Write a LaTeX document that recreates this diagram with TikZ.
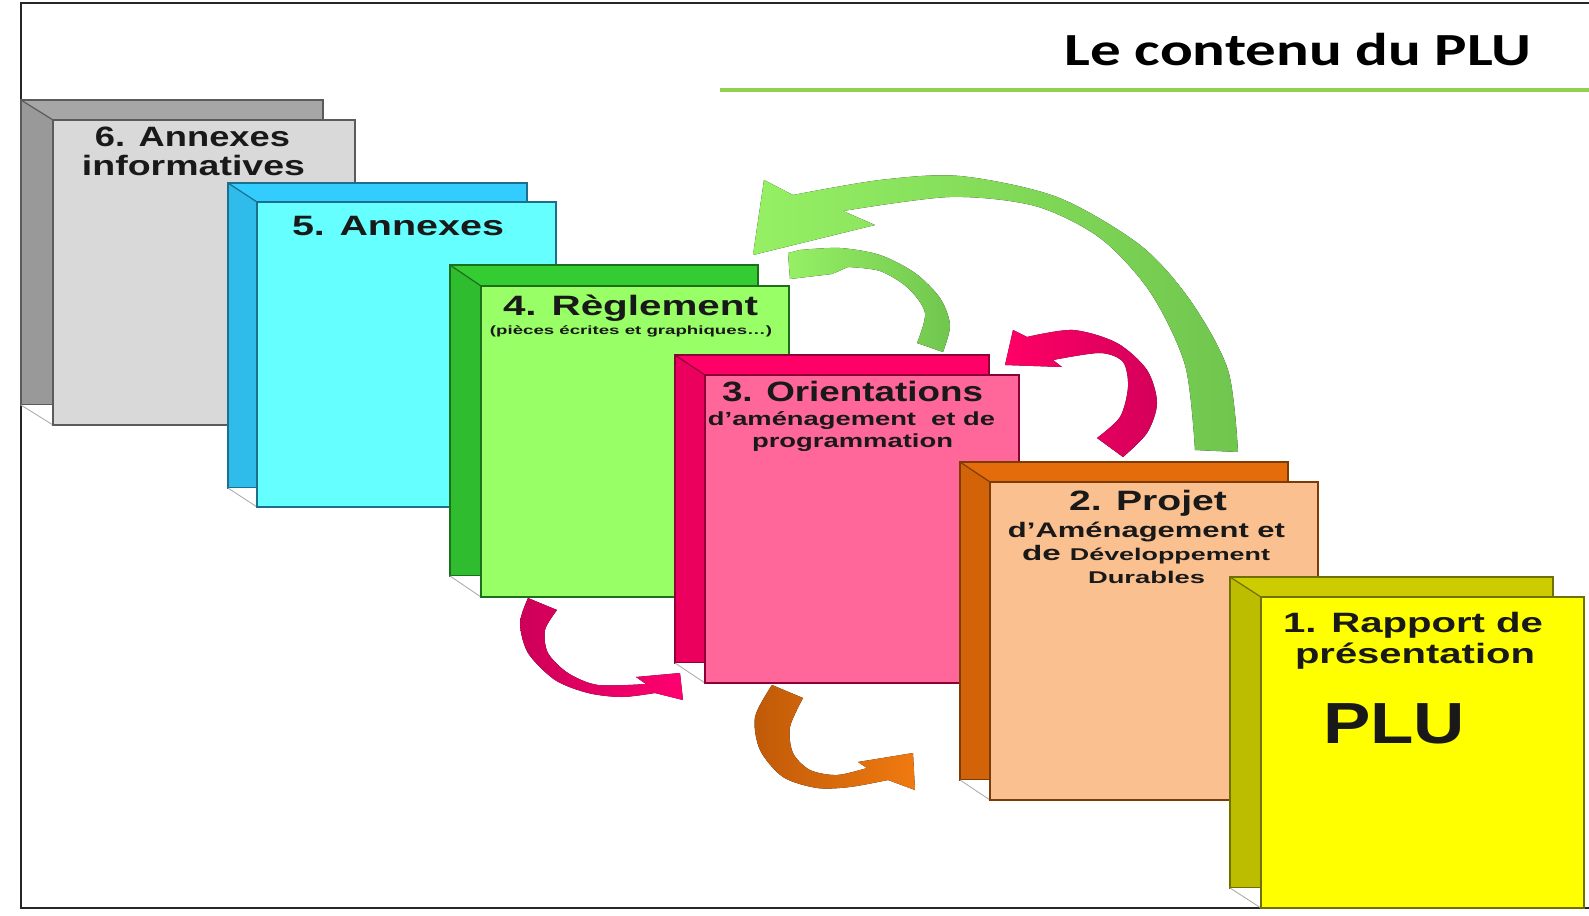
\documentclass[tikz,border=0pt]{standalone}
\usepackage{fontspec}
\setmainfont{Liberation Sans}
\newfontfamily\titlefont{Carlito}
\usepackage{graphicx}
\newcommand{\fitw}[3]{\resizebox{#1pt}{\height}{\fontsize{#2pt}{#2pt}\selectfont #3}}
\definecolor{bkA}{HTML}{A6A6A6}\definecolor{frA}{HTML}{D9D9D9}
\definecolor{bkB}{HTML}{33CCFF}\definecolor{frB}{HTML}{66FFFF}
\definecolor{bkC}{HTML}{33CC33}\definecolor{frC}{HTML}{99FF66}
\definecolor{bkD}{HTML}{FF0066}\definecolor{frD}{HTML}{FF6699}
\definecolor{bkE}{HTML}{E46C0A}\definecolor{frE}{HTML}{FAC090}
\definecolor{bkF}{HTML}{CCCC00}\definecolor{frF}{HTML}{FFFF00}
\definecolor{rulegreen}{RGB}{146,208,80}
\newcommand{\drawbook}[8]{%
 \fill[#7] (#1,#2) rectangle (#3,#4);
 \fill[#7!92!black] (#1,#2) -- ({#1+#5},{#2+#6}) -- ({#1+#5},#4) -- (#1,#4) -- cycle;
 \draw[bookedge=#7] (#1,#2) rectangle (#3,#4);
 \fill[white] (#1,#4) -- ({#1+#5},{#4+#6}) -- ({#1+#5},#4) -- cycle;
 \draw[gray!70, line width=0.8pt] (#1,#4) -- ({#1+#5},{#4+#6});
 \draw[bookedge=#7] (#1,#2) -- ({#1+#5},{#2+#6});
 \fill[#8] ({#1+#5},{#2+#6}) rectangle ({#3+#5},{#4+#6});
 \draw[bookedge=#7] ({#1+#5},{#2+#6}) rectangle ({#3+#5},{#4+#6});
}
\tikzset{
 bookedge/.style={draw=#1!55!black, line width=1.2pt},
 txt/.style={anchor=base, inner sep=0pt, font=\bfseries, text=black!90},
 greenarrow/.style={left color={rgb,255:red,150;green,240;blue,100}, right color={rgb,255:red,112;green,198;blue,78}},
 pinkhead/.style={left color={rgb,255:red,255;green,0;blue,102}, right color={rgb,255:red,212;green,0;blue,90}},
 pinktail/.style={left color={rgb,255:red,205;green,0;blue,88}, right color={rgb,255:red,255;green,0;blue,112}},
 orangearrow/.style={left color={rgb,255:red,192;green,90;blue,8}, right color={rgb,255:red,240;green,122;blue,16}},
}
\begin{document}
\begin{tikzpicture}[x=1pt,y=-1pt]
\useasboundingbox (0,0) rectangle (1589,915);
\fill[white] (0,0) rectangle (1589,915);
% frame
\draw[line width=2.5pt, black!85] (1590,3) -- (21,3) -- (21,908) -- (1590,908);
% title
\node[anchor=base, inner sep=0pt, text=black] (title) at (1298,66) {\titlefont\bfseries\fitw{467}{46}{Le contenu du PLU}};
\draw[line width=4pt, rulegreen] (720,90) -- (1590,90);
% books
\drawbook{21}{100}{323}{405}{32}{20}{bkA}{frA}
\drawbook{228}{183}{527}{488}{29}{19}{bkB}{frB}
\drawbook{450}{265}{758}{576}{31}{21}{bkC}{frC}
\drawbook{675}{355}{989}{663}{30}{20}{bkD}{frD}
\drawbook{960}{462}{1288}{780}{30}{20}{bkE}{frE}
\drawbook{1230}{577}{1553}{888}{31}{20}{bkF}{frF}
% arrows
\fill[greenarrow] plot[smooth] coordinates {(1238,452) (1228,370) (1190,300) (1140,245) (1057,197) (960,176) (880,180) (793,195)}
  -- (764,180) -- (753,255) -- (875,225) -- (843,211)
  -- plot[smooth] coordinates {(843,211) (950,197) (1035,206) (1100,238) (1150,292) (1185,365) (1195,450)} -- cycle;
\fill[greenarrow] plot[smooth] coordinates {(943,352) (950,325) (940,298) (915,273) (880,255) (840,248) (800,250)}
  -- (788,253) -- (790,279) -- (832,274) -- (848,267)
  -- plot[smooth] coordinates {(848,267) (880,271) (908,288) (925,313) (917,343)} -- cycle;
\fill[pinkhead] plot[smooth] coordinates {(1123,457) (1147,433) (1157,403) (1147,370) (1117,343) (1073,330) (1027,337)}
  -- (1013,330) -- (1005,365) -- (1062,367) -- (1053,360)
  -- plot[smooth] coordinates {(1053,360) (1100,353) (1123,362) (1128,387) (1120,417) (1097,438)} -- cycle;
\fill[pinktail] plot[smooth] coordinates {(528,598) (520,623) (528,653) (555,680) (588,693) (622,697) (655,693)}
  -- (683,700) -- (680,673) -- (636,677) -- (646,684)
  -- plot[smooth] coordinates {(646,684) (598,685) (568,673) (548,653) (545,630) (557,610)} -- cycle;
\fill[orangearrow] plot[smooth] coordinates {(772,685) (755,717) (760,750) (783,777) (817,788) (850,787) (888,780)}
  -- (915,790) -- (913,753) -- (858,762) -- (867,768)
  -- plot[smooth] coordinates {(867,768) (837,775) (810,770) (793,753) (790,727) (803,698)} -- cycle;
% texts
\node[txt] (t6a) at (192.5,146.7) {\fitw{195}{28}{6. Annexes}};
\node[txt] (t6b) at (193.5,175) {\fitw{223}{28}{informatives}};
\node[txt] (t5) at (398,235) {\fitw{212}{28}{5. Annexes}};
\node[txt] (t4a) at (630.5,315) {\fitw{255}{28}{4. Règlement}};
\node[txt] (t4b) at (631,334) {\fitw{282}{12}{(pièces écrites et graphiques…)}};
\node[txt] (t3a) at (852.5,401) {\fitw{261}{28}{3. Orientations}};
\node[txt] (t3b) at (851.5,425) {\fitw{287}{19}{d’aménagement\ \ et de}};
\node[txt] (t3c) at (852.5,447) {\fitw{201}{19}{programmation}};
\node[txt] (t2a) at (1148,510) {\fitw{158}{28}{2. Projet}};
\node[txt] (t2b) at (1146.5,537) {\fitw{277}{21}{d’Aménagement et}};
\node[txt] (t2c) at (1146,560) {\fitw{248}{21}{de {\fontsize{17pt}{17pt}\selectfont Développement}}};
\node[txt] (t2d) at (1146.5,583) {\fitw{117}{17}{Durables}};
\node[txt] (t1a) at (1413,632) {\fitw{260}{28}{1. Rapport de}};
\node[txt] (t1b) at (1415,663) {\fitw{240}{28}{présentation}};
\node[txt] (t1c) at (1394,743) {\fitw{142}{58}{PLU}};
\end{tikzpicture}
\end{document}
